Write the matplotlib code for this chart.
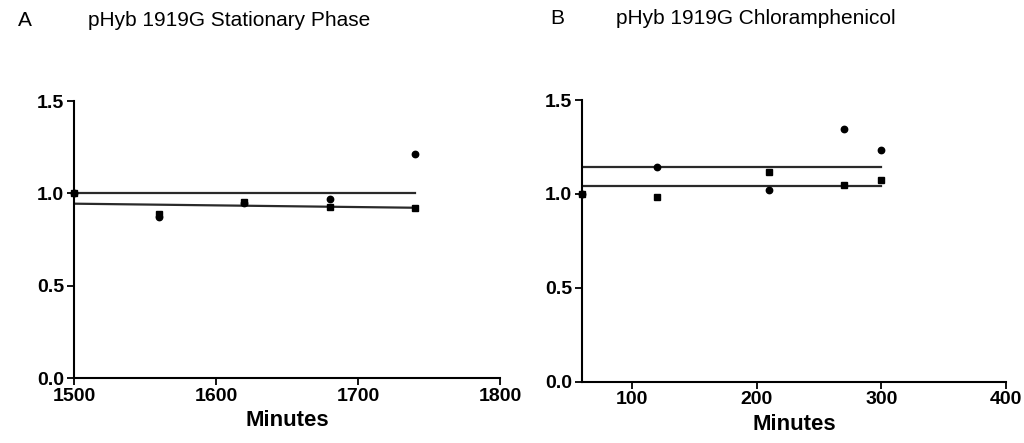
import numpy as np
import matplotlib.pyplot as plt

plt.rcParams['font.family'] = ['Liberation Sans', 'DejaVu Sans']

# Panel A - stationary phase
min_a = [1500, 1560, 1620, 1680, 1740]
circ_a = [1.0, 0.870, 0.950, 0.967, 1.213]
sq_a = [1.0, 0.886, 0.955, 0.928, 0.922]
fit_x_a = [1500, 1740]
fit_circ_a = [1.0, 1.0]
fit_sq_a = [0.944, 0.922]

# Panel B - chloramphenicol
min_b = [60, 120, 210, 270, 300]
circ_b = [1.0, 1.141, 1.022, 1.347, 1.235]
sq_b = [1.0, 0.985, 1.114, 1.045, 1.074]
fit_x_b = [60, 300]
fit_circ_b = [1.144, 1.144]
fit_sq_b = [1.040, 1.040]

yticks = [0.0, 0.5, 1.0, 1.5]


def panel(ax, x, circ, sq, fx, fc, fs, xlim, xticks):
    ax.plot(fx, fc, color='#2a2a2a', lw=1.6, zorder=2)
    ax.plot(fx, fs, color='#2a2a2a', lw=1.6, zorder=2)
    ax.plot(x, circ, 'o', color='black', ms=4.6, ls='none', clip_on=False, zorder=3)
    ax.plot(x, sq, 's', color='black', ms=4.4, ls='none', clip_on=False, zorder=3)
    ax.set_xlim(*xlim)
    ax.set_ylim(0, 1.5)
    ax.set_xticks(xticks)
    ax.set_yticks(yticks)
    ax.set_yticklabels([f"{v:.1f}" for v in yticks])
    for s in ['top', 'right']:
        ax.spines[s].set_visible(False)
    for s in ['left', 'bottom']:
        ax.spines[s].set_linewidth(1.5)
    ax.tick_params(direction='out', length=5, width=1.3, labelsize=14, pad=2)
    for lab in ax.get_xticklabels() + ax.get_yticklabels():
        lab.set_fontweight('bold')
    ax.set_xlabel("Minutes", fontsize=16, fontweight='bold', labelpad=4)


fig = plt.figure(figsize=(10.24, 4.43), dpi=100)
ax1 = fig.add_axes([0.0723, 0.1467, 0.4160, 0.6253])
ax2 = fig.add_axes([0.5684, 0.1388, 0.4141, 0.6354])

panel(ax1, min_a, circ_a, sq_a, fit_x_a, fit_circ_a, fit_sq_a,
      (1500, 1800), [1500, 1600, 1700, 1800])
panel(ax2, min_b, circ_b, sq_b, fit_x_b, fit_circ_b, fit_sq_b,
      (60, 400), [100, 200, 300, 400])

fig.text(18 / 1024, 1 - 20 / 443, "A", fontsize=15, va='center', ha='left')
fig.text(88 / 1024, 1 - 20 / 443, "pHyb 1919G Stationary Phase", fontsize=15, va='center', ha='left')
fig.text(550 / 1024, 1 - 18 / 443, "B", fontsize=15, va='center', ha='left')
fig.text(616 / 1024, 1 - 18 / 443, "pHyb 1919G Chloramphenicol", fontsize=15, va='center', ha='left')

fig.savefig("out.png", dpi=100)
